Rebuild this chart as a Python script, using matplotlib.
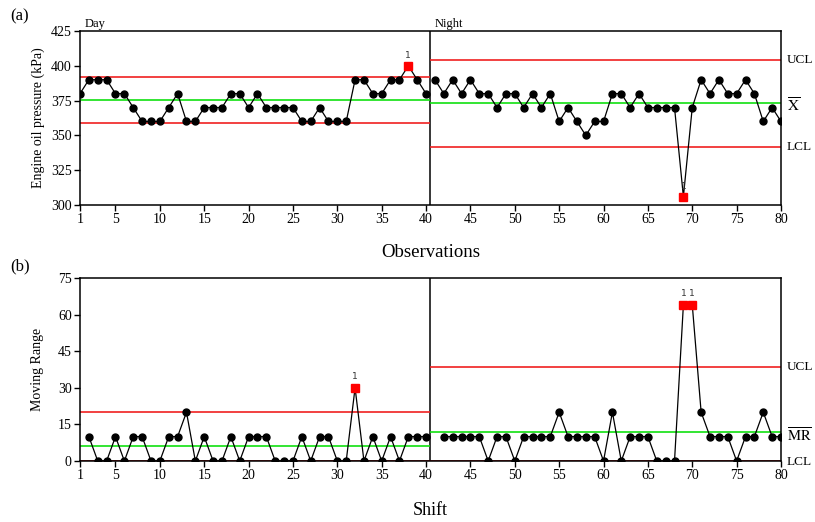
import matplotlib
matplotlib.use('Agg')
import matplotlib.pyplot as plt

plt.rcParams['font.family'] = ['Liberation Serif', 'DejaVu Serif']
plt.rcParams['mathtext.fontset'] = 'stix'

# ---- datos ----
obs_day = [380, 390, 390, 390, 380, 380, 370, 360, 360, 360,
           370, 380, 360, 360, 370, 370, 370, 380, 380, 370,
           380, 370, 370, 370, 370, 360, 360, 370, 360, 360,
           360, 390, 390, 380, 380, 390, 390, 400, 390, 380]
obs_night = [390, 380, 390, 380, 390, 380, 380, 370, 380, 380,
             370, 380, 370, 380, 360, 370, 360, 350, 360, 360,
             380, 380, 370, 380, 370, 370, 370, 370, 306, 370,
             390, 380, 390, 380, 380, 390, 380, 360, 370, 360]
# moving range: dia = turnos 2..40, noche = turnos 42..80
mr_day = [10, 0, 0, 10, 0, 10, 10, 0, 0,
          10, 10, 20, 0, 10, 0, 0, 10, 0, 10,
          10, 10, 0, 0, 0, 10, 0, 10, 10, 0,
          0, 30, 0, 10, 0, 10, 0, 10, 10, 10]
mr_night = [10, 10, 10, 10, 10, 0, 10, 10, 0,
            10, 10, 10, 10, 20, 10, 10, 10, 10, 0,
            20, 0, 10, 10, 10, 0, 0, 0, 64, 64,
            20, 10, 10, 10, 0, 10, 10, 20, 10, 10]
flag_obs = [38, 69]
flag_mr = [32, 69, 70]

# limites (LCL, centro, UCL)
lim_day = [358.9, 375.25, 391.6]
lim_night = [341.9, 373.15, 404.4]
lim_mr_day = [0, 6.15, 20.1]
lim_mr_night = [0, 11.74, 38.4]

x_ticks = [1, 5, 10, 15, 20, 25, 30, 35, 40, 45, 50, 55, 60, 65, 70, 75, 80]

ROJO = '#f02020'
VERDE = '#10e010'
ROJO_OSC = '#a00000'

W, H = 815, 522
fig = plt.figure(figsize=(W / 100, H / 100), dpi=100)
ax1 = fig.add_axes([80 / W, 1 - 205 / H, 701 / W, 174 / H])
ax2 = fig.add_axes([80 / W, 1 - 461 / H, 701 / W, 183 / H])


def estilo(ax, ylim, yticks):
    ax.set_xlim(1, 80)
    ax.set_ylim(*ylim)
    ax.set_xticks(x_ticks)
    ax.set_yticks(yticks)
    ax.tick_params(direction='out', length=4, width=1, labelsize=10, pad=2)
    for s in ax.spines.values():
        s.set_linewidth(1.1)
    ax.axvline(40.5, color='black', lw=1.1)


def serie(ax, xs, ys, flags):
    ax.plot(xs, ys, color='black', lw=0.9, zorder=3)
    for x, y in zip(xs, ys):
        if x in flags:
            ax.plot(x, y, 's', color='#ff0000', ms=5.5, zorder=4)
            ax.text(x, y + (ax.get_ylim()[1] - ax.get_ylim()[0]) * 0.035, '1',
                    family='DejaVu Sans', fontsize=6.5, color='#333333',
                    ha='center', va='bottom')
        else:
            ax.plot(x, y, 'o', color='black', ms=5, zorder=4)


def limites(ax, lims, x0, x1, lcl_color=ROJO):
    ax.hlines([lims[0]], x0, x1, color=lcl_color, lw=1.2, zorder=2)
    ax.hlines([lims[2]], x0, x1, color=ROJO, lw=1.2, zorder=2)
    ax.hlines([lims[1]], x0, x1, color=VERDE, lw=1.2, zorder=2)


# ---- (a) observaciones ----
estilo(ax1, (300, 425), [300, 325, 350, 375, 400, 425])
limites(ax1, lim_day, 1, 40.5)
limites(ax1, lim_night, 40.5, 80)
serie(ax1, list(range(1, 41)), obs_day, flag_obs)
serie(ax1, list(range(41, 81)), obs_night, flag_obs)
ax1.set_ylabel('Engine oil pressure (kPa)', fontsize=10, labelpad=4)
ax1.set_xlabel('Observations', fontsize=13.5, labelpad=13)
ax1.text(1.5, 425.5, 'Day', fontsize=9, va='bottom')
ax1.text(41.0, 425.5, 'Night', fontsize=9, va='bottom')
tr = ax1.get_yaxis_transform()
ax1.text(1.008, lim_night[2], 'UCL', transform=tr, fontsize=9.5, va='center')
ax1.text(1.008, lim_night[1] - 1.5, r'$\overline{\mathrm{X}}$', transform=tr, fontsize=11, va='center')
ax1.text(1.008, lim_night[0], 'LCL', transform=tr, fontsize=9.5, va='center')
fig.text(10 / W, 1 - 16 / H, '(a)', fontsize=12, va='center')

# ---- (b) moving range ----
estilo(ax2, (0, 75), [0, 15, 30, 45, 60, 75])
limites(ax2, lim_mr_day, 1, 40.5, ROJO_OSC)
limites(ax2, lim_mr_night, 40.5, 80, ROJO_OSC)
serie(ax2, list(range(2, 41)), mr_day, flag_mr)
serie(ax2, list(range(42, 81)), mr_night, flag_mr)
ax2.set_ylabel('Moving Range', fontsize=10, labelpad=10)
ax2.set_xlabel('Shift', fontsize=13, labelpad=14)
tr = ax2.get_yaxis_transform()
ax2.text(1.008, lim_mr_night[2], 'UCL', transform=tr, fontsize=9.5, va='center')
ax2.text(1.008, lim_mr_night[1] - 1.5, r'$\overline{\mathrm{MR}}$', transform=tr, fontsize=10.5, va='center')
ax2.text(1.008, lim_mr_night[0] - 0.5, 'LCL', transform=tr, fontsize=9.5, va='center')
fig.text(10 / W, 1 - 266 / H, '(b)', fontsize=12, va='center')

fig.savefig('out.png', dpi=100)
